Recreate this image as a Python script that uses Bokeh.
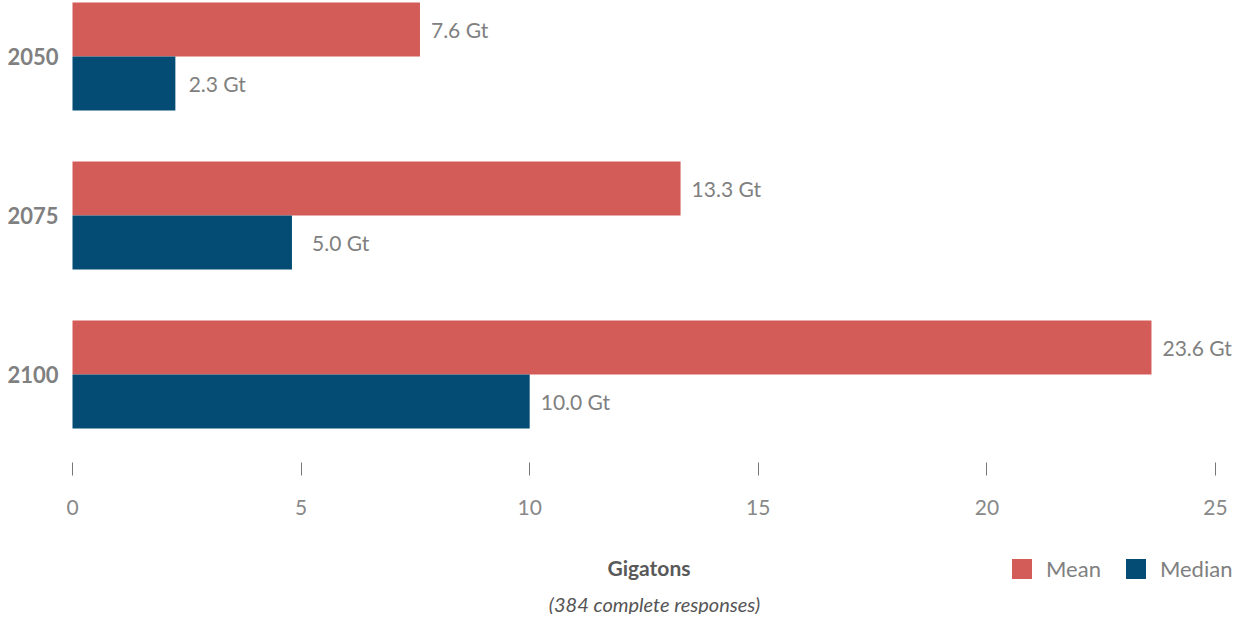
from bokeh.plotting import figure
from bokeh.models import Range1d, FixedTicker, Legend, LegendItem, Label, ColumnDataSource
from bokeh.core.properties import value
from bokeh.embed import file_html
from bokeh.resources import INLINE

years = ["2050", "2075", "2100"]
mean_vals = [7.6, 13.3, 23.6]
median_vals = [2.25, 4.8, 10.0]
mean_labels = [7.6, 13.3, 23.6]
median_labels = [2.3, 5.0, 10.0]
x_ticks = [0, 5, 10, 15, 20, 25]

FONT = "Lato"
RED = "#d35b58"
NAVY = "#044c73"

idx = list(range(len(years)))
bar_h = 0.34
src = ColumnDataSource(dict(
    idx=idx,
    y_mean=[i - bar_h / 2 for i in idx],
    y_median=[i + bar_h / 2 for i in idx],
    mean=mean_vals,
    median=median_vals,
    mean_lbl=mean_labels,
    median_lbl=median_labels,
    mean_txt=[f"{v:.1f} Gt" for v in mean_labels],
    median_txt=[f"{v:.1f} Gt" for v in median_labels],
))

p = figure(width=1233, height=614, output_backend="svg", toolbar_location=None,
           x_range=Range1d(-0.175, 25.394), y_range=Range1d(3.509, -0.352),
           min_border_left=64, min_border_right=0, min_border_top=0, min_border_bottom=0)
p.outline_line_color = None
p.grid.visible = False
p.background_fill_color = "white"

r_mean = p.hbar(y="y_mean", right="mean", left=0, height=bar_h, source=src,
                fill_color=RED, line_color=None)
r_median = p.hbar(y="y_median", right="median", left=0, height=bar_h, source=src,
                  fill_color=NAVY, line_color=None)

for xcol, ycol, tcol in (("mean_lbl", "y_mean", "mean_txt"), ("median_lbl", "y_median", "median_txt")):
    p.text(x=xcol, y=ycol, text=tcol, source=src, x_offset=11,
           text_baseline="middle", text_align="left",
           text_font=value(FONT), text_font_size="21px", text_color="#808080")

xa = p.xaxis[0]
xa.fixed_location = 2.553
xa.ticker = FixedTicker(ticks=x_ticks)
xa.axis_line_color = None
xa.major_tick_line_color = "#777777"
xa.major_tick_out = 13
xa.major_tick_in = 0
xa.minor_tick_line_color = None
xa.major_label_text_font = FONT
xa.major_label_text_font_size = "21px"
xa.major_label_text_color = "#888888"
xa.major_label_standoff = 25
xa.axis_label = "Gigatons"
xa.axis_label_text_font = FONT
xa.axis_label_text_font_style = "bold"
xa.axis_label_text_font_size = "21px"
xa.axis_label_text_color = "#595959"
xa.axis_label_standoff = 36

ya = p.yaxis[0]
ya.ticker = FixedTicker(ticks=idx)
ya.major_label_overrides = {i: y for i, y in zip(idx, years)}
ya.axis_line_color = None
ya.major_tick_line_color = None
ya.minor_tick_line_color = None
ya.major_label_text_font = FONT
ya.major_label_text_font_style = "bold"
ya.major_label_text_font_size = "22px"
ya.major_label_text_color = "#808080"
ya.major_label_standoff = 0

legend = Legend(items=[LegendItem(label="Mean", renderers=[r_mean]),
                       LegendItem(label="Median", renderers=[r_median])],
                location=(945, 32), orientation="horizontal",
                glyph_width=25, glyph_height=25, label_standoff=12, spacing=22,
                padding=0, margin=0, border_line_color=None, background_fill_alpha=0,
                label_text_font=FONT, label_text_font_size="22px", label_text_color="#808080")
p.add_layout(legend, "center")

p.add_layout(Label(x=590, y=11, x_units="screen", y_units="screen",
                   text="(384 complete responses)", text_align="center", text_baseline="middle",
                   text_font=FONT, text_font_style="italic", text_font_size="20px",
                   text_color="#555555"))

open("out.html", "w").write(file_html(p, INLINE))
